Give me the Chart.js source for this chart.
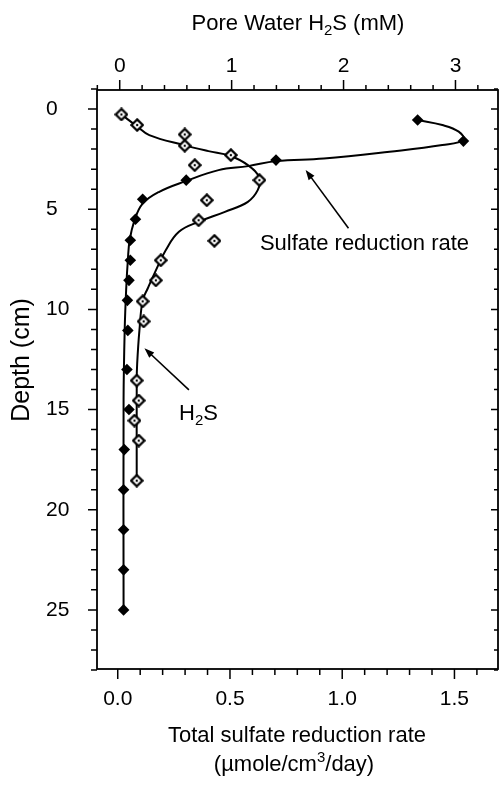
<!DOCTYPE html>
<html>
<head>
<meta charset="utf-8">
<script src="https://cdn.jsdelivr.net/npm/chart.js@4.4.0/dist/chart.umd.min.js"></script>
<style>
  html, body { margin: 0; padding: 0; background: #fff; }
  #wrap { width: 504px; height: 787px; position: relative; }
</style>
</head>
<body>
<div id="wrap"><canvas id="srChart"></canvas></div>
<script>
// Sulfate reduction rate (filled diamonds) - bottom axis, umole/cm3/day
const srDepth = [0.55, 1.6, 2.55, 3.55, 4.5, 5.5, 6.55, 7.55, 8.55, 9.55, 11.05, 13.0, 15.0, 17.0, 19.0, 21.0, 23.0, 25.0];
const srRate = [1.336, 1.54, 0.705, 0.305, 0.111, 0.079, 0.056, 0.056, 0.05, 0.043, 0.045, 0.041, 0.05, 0.029, 0.026, 0.026, 0.026, 0.026];

// fitted curve through the rates
const srFitDepth = [0.55, 0.8, 1.13, 1.55, 1.8, 2.13, 2.47, 2.6, 2.85, 3.05, 3.6, 4.13, 4.72, 5.55, 6.55, 7.55, 8.9, 11.0, 14.5, 25.0];
const srFitRate = [1.336, 1.446, 1.519, 1.541, 1.446, 1.211, 0.918, 0.705, 0.581, 0.449, 0.302, 0.185, 0.111, 0.075, 0.053, 0.045, 0.038, 0.031, 0.026, 0.026];

// Pore water H2S (open diamonds) - top axis, mM
const h2sDepth = [0.27, 0.8, 1.27, 1.83, 2.3, 2.8, 3.55, 4.55, 5.55, 6.58, 7.55, 8.55, 9.6, 10.6, 13.55, 14.55, 15.55, 16.55, 18.55];
const h2sConc = [0.015, 0.156, 0.581, 0.581, 0.993, 0.67, 1.248, 0.778, 0.705, 0.846, 0.367, 0.323, 0.205, 0.214, 0.152, 0.17, 0.132, 0.17, 0.152];

const h2sFitDepth = [0.27, 0.83, 1.3, 1.8, 2.1, 2.33, 2.8, 3.45, 4.05, 4.63, 5.13, 5.63, 6.13, 7.05, 8.05, 8.97, 9.55, 11.05, 12.7, 13.55, 18.55];
const h2sFitConc = [0.015, 0.147, 0.264, 0.573, 0.793, 0.984, 1.145, 1.25, 1.233, 1.145, 0.94, 0.705, 0.529, 0.411, 0.323, 0.249, 0.205, 0.176, 0.156, 0.152, 0.152];

// tick labels
const rateTicks = [0, 0.5, 1.0, 1.5];
const h2sTicks = [0, 1, 2, 3];
const depthTicks = [0, 5, 10, 15, 20, 25];

const FONT = '"Liberation Sans", Arial, Helvetica, sans-serif';

function pts(xs, ys) {
  return xs.map((v, i) => ({ x: v, y: ys[i] }));
}

// open diamond with a dot in the middle
function openDiamond() {
  const c = document.createElement('canvas');
  c.width = 14; c.height = 14;
  const g = c.getContext('2d');
  g.beginPath();
  g.moveTo(7, 1.4); g.lineTo(12.6, 7); g.lineTo(7, 12.6); g.lineTo(1.4, 7);
  g.closePath();
  g.fillStyle = '#fff';
  g.fill();
  g.lineWidth = 2.2;
  g.strokeStyle = '#000';
  g.stroke();
  g.beginPath();
  g.arc(7, 7, 1.2, 0, Math.PI * 2);
  g.fillStyle = '#000';
  g.fill();
  return c;
}

// text with sub/superscripts: parts = [[text, shift]], shift -1 sub, 1 sup
function richText(ctx, parts, x, y, size, align) {
  const small = size * 0.68;
  let w = 0;
  parts.forEach(p => {
    ctx.font = (p[1] ? small : size) + 'px ' + FONT;
    w += ctx.measureText(p[0]).width;
  });
  let cx = align === 'center' ? x - w / 2 : x;
  ctx.textAlign = 'left';
  ctx.textBaseline = 'alphabetic';
  parts.forEach(p => {
    ctx.font = (p[1] ? small : size) + 'px ' + FONT;
    const dy = p[1] === -1 ? size * 0.24 : p[1] === 1 ? -size * 0.4 : 0;
    ctx.fillText(p[0], cx, y + dy);
    cx += ctx.measureText(p[0]).width;
  });
}

function arrow(ctx, x1, y1, x2, y2) {
  const ang = Math.atan2(y2 - y1, x2 - x1);
  const L = 10, W = 3.6;
  ctx.beginPath();
  ctx.moveTo(x1, y1);
  ctx.lineTo(x2 - Math.cos(ang) * L * 0.8, y2 - Math.sin(ang) * L * 0.8);
  ctx.stroke();
  ctx.beginPath();
  ctx.moveTo(x2, y2);
  ctx.lineTo(x2 - Math.cos(ang) * L - Math.sin(ang) * W, y2 - Math.sin(ang) * L + Math.cos(ang) * W);
  ctx.lineTo(x2 - Math.cos(ang) * L + Math.sin(ang) * W, y2 - Math.sin(ang) * L - Math.cos(ang) * W);
  ctx.closePath();
  ctx.fill();
}

// frame, minor/major ticks, titles and arrows
const framePlugin = {
  id: 'frame',
  afterDatasetsDraw(chart) {
    const { ctx, chartArea: a, scales } = chart;
    ctx.save();
    ctx.strokeStyle = '#000';
    ctx.fillStyle = '#000';
    ctx.lineWidth = 1.8;
    ctx.strokeRect(a.left, a.top, a.right - a.left, a.bottom - a.top);

    ctx.lineWidth = 1.5;
    ctx.beginPath();
    for (let d = -1; d <= 28; d++) {
      const py = scales.y.getPixelForValue(d);
      if (py < a.top - 1.5 || py > a.bottom + 1.5) continue;
      const major = d % 5 === 0;
      ctx.moveTo(a.left - (major ? 9 : 6), py); ctx.lineTo(a.left, py);
      ctx.moveTo(a.right, py); ctx.lineTo(a.right - (major ? 7 : 4), py);
    }
    for (let i = 0; i <= 17; i++) {
      const px = scales.x.getPixelForValue(i / 10);
      if (px > a.right) continue;
      ctx.moveTo(px, a.bottom); ctx.lineTo(px, a.bottom + (i % 5 === 0 ? 10 : 6));
    }
    for (let i = -1; i <= 17; i++) {
      const px = scales.x2.getPixelForValue(i * 0.2);
      if (px < a.left - 1 || px > a.right) continue;
      ctx.moveTo(px, a.top); ctx.lineTo(px, a.top - (i % 5 === 0 ? 10 : 5));
    }
    ctx.stroke();

    // axis titles
    richText(ctx, [['Pore Water H', 0], ['2', -1], ['S (mM)', 0]], 298, 29.5, 22, 'center');
    richText(ctx, [['Total sulfate reduction rate', 0]], 297, 742, 22, 'center');
    richText(ctx, [['(\u00b5mole/cm', 0], ['3', 1], ['/day)', 0]], 294, 771, 22, 'center');
    ctx.save();
    ctx.translate(29, 360);
    ctx.rotate(-Math.PI / 2);
    richText(ctx, [['Depth (cm)', 0]], 0, 0, 25, 'center');
    ctx.restore();

    // annotations (in rate / depth units)
    const X = v => scales.x.getPixelForValue(v);
    const Y = v => scales.y.getPixelForValue(v);
    ctx.lineWidth = 1.6;
    arrow(ctx, X(1.028), Y(5.95), X(0.837), Y(3.04));
    richText(ctx, [['Sulfate reduction rate', 0]], X(0.6335), Y(7.04), 22, 'left');
    arrow(ctx, X(0.317), Y(14.02), X(0.119), Y(11.94));
    richText(ctx, [['H', 0], ['2', -1], ['S', 0]], X(0.273), Y(15.52), 22, 'left');
    ctx.restore();
  }
};

const tickFont = { family: FONT, size: 21 };

new Chart(document.getElementById('srChart'), {
  type: 'scatter',
  data: {
    datasets: [
      {
        label: 'Sulfate reduction rate',
        data: pts(srRate, srDepth),
        xAxisID: 'x',
        pointStyle: 'rectRot',
        pointRadius: 5.8,
        backgroundColor: '#000',
        borderColor: '#000',
        borderWidth: 0,
        order: 0
      },
      {
        label: 'H2S',
        data: pts(h2sConc, h2sDepth),
        xAxisID: 'x2',
        pointStyle: openDiamond(),
        pointRadius: 5,
        order: 0
      },
      {
        label: 'SRR fit',
        data: pts(srFitRate, srFitDepth),
        xAxisID: 'x',
        showLine: true,
        pointRadius: 0,
        borderColor: '#000',
        borderWidth: 2,
        tension: 0.4,
        order: 1
      },
      {
        label: 'H2S fit',
        data: pts(h2sFitConc, h2sFitDepth),
        xAxisID: 'x2',
        showLine: true,
        pointRadius: 0,
        borderColor: '#000',
        borderWidth: 2,
        tension: 0.4,
        order: 1
      }
    ]
  },
  options: {
    responsive: true,
    maintainAspectRatio: false,
    animation: false,
    layout: { padding: { left: 46, right: 1, top: 0, bottom: 0 } },
    plugins: {
      legend: { display: false },
      tooltip: { enabled: false }
    },
    scales: {
      x: {
        type: 'linear',
        position: 'bottom',
        min: -0.0924,
        max: 1.694,
        afterBuildTicks: s => { s.ticks = rateTicks.map(v => ({ value: v })); },
        afterFit: s => { s.height = 118; },
        ticks: {
          callback: v => Number(v).toFixed(1),
          font: tickFont,
          color: '#000',
          padding: 18,
          autoSkip: false,
          maxRotation: 0
        },
        grid: { display: false, drawTicks: false },
        border: { display: false }
      },
      x2: {
        type: 'linear',
        position: 'top',
        min: -0.203,
        max: 3.38,
        afterBuildTicks: s => { s.ticks = h2sTicks.map(v => ({ value: v })); },
        afterFit: s => { s.height = 90; },
        ticks: {
          callback: v => String(v),
          font: tickFont,
          color: '#000',
          padding: 11,
          autoSkip: false,
          maxRotation: 0
        },
        grid: { display: false, drawTicks: false },
        border: { display: false }
      },
      y: {
        type: 'linear',
        reverse: true,
        min: -0.95,
        max: 27.95,
        afterBuildTicks: s => { s.ticks = depthTicks.map(v => ({ value: v })); },
        afterFit: s => { s.width = 51; },
        ticks: {
          callback: v => String(v),
          font: tickFont,
          color: '#000',
          crossAlign: 'far',
          autoSkip: false
        },
        grid: { display: false, drawTicks: false },
        border: { display: false }
      }
    }
  },
  plugins: [framePlugin]
});
</script>
</body>
</html>
